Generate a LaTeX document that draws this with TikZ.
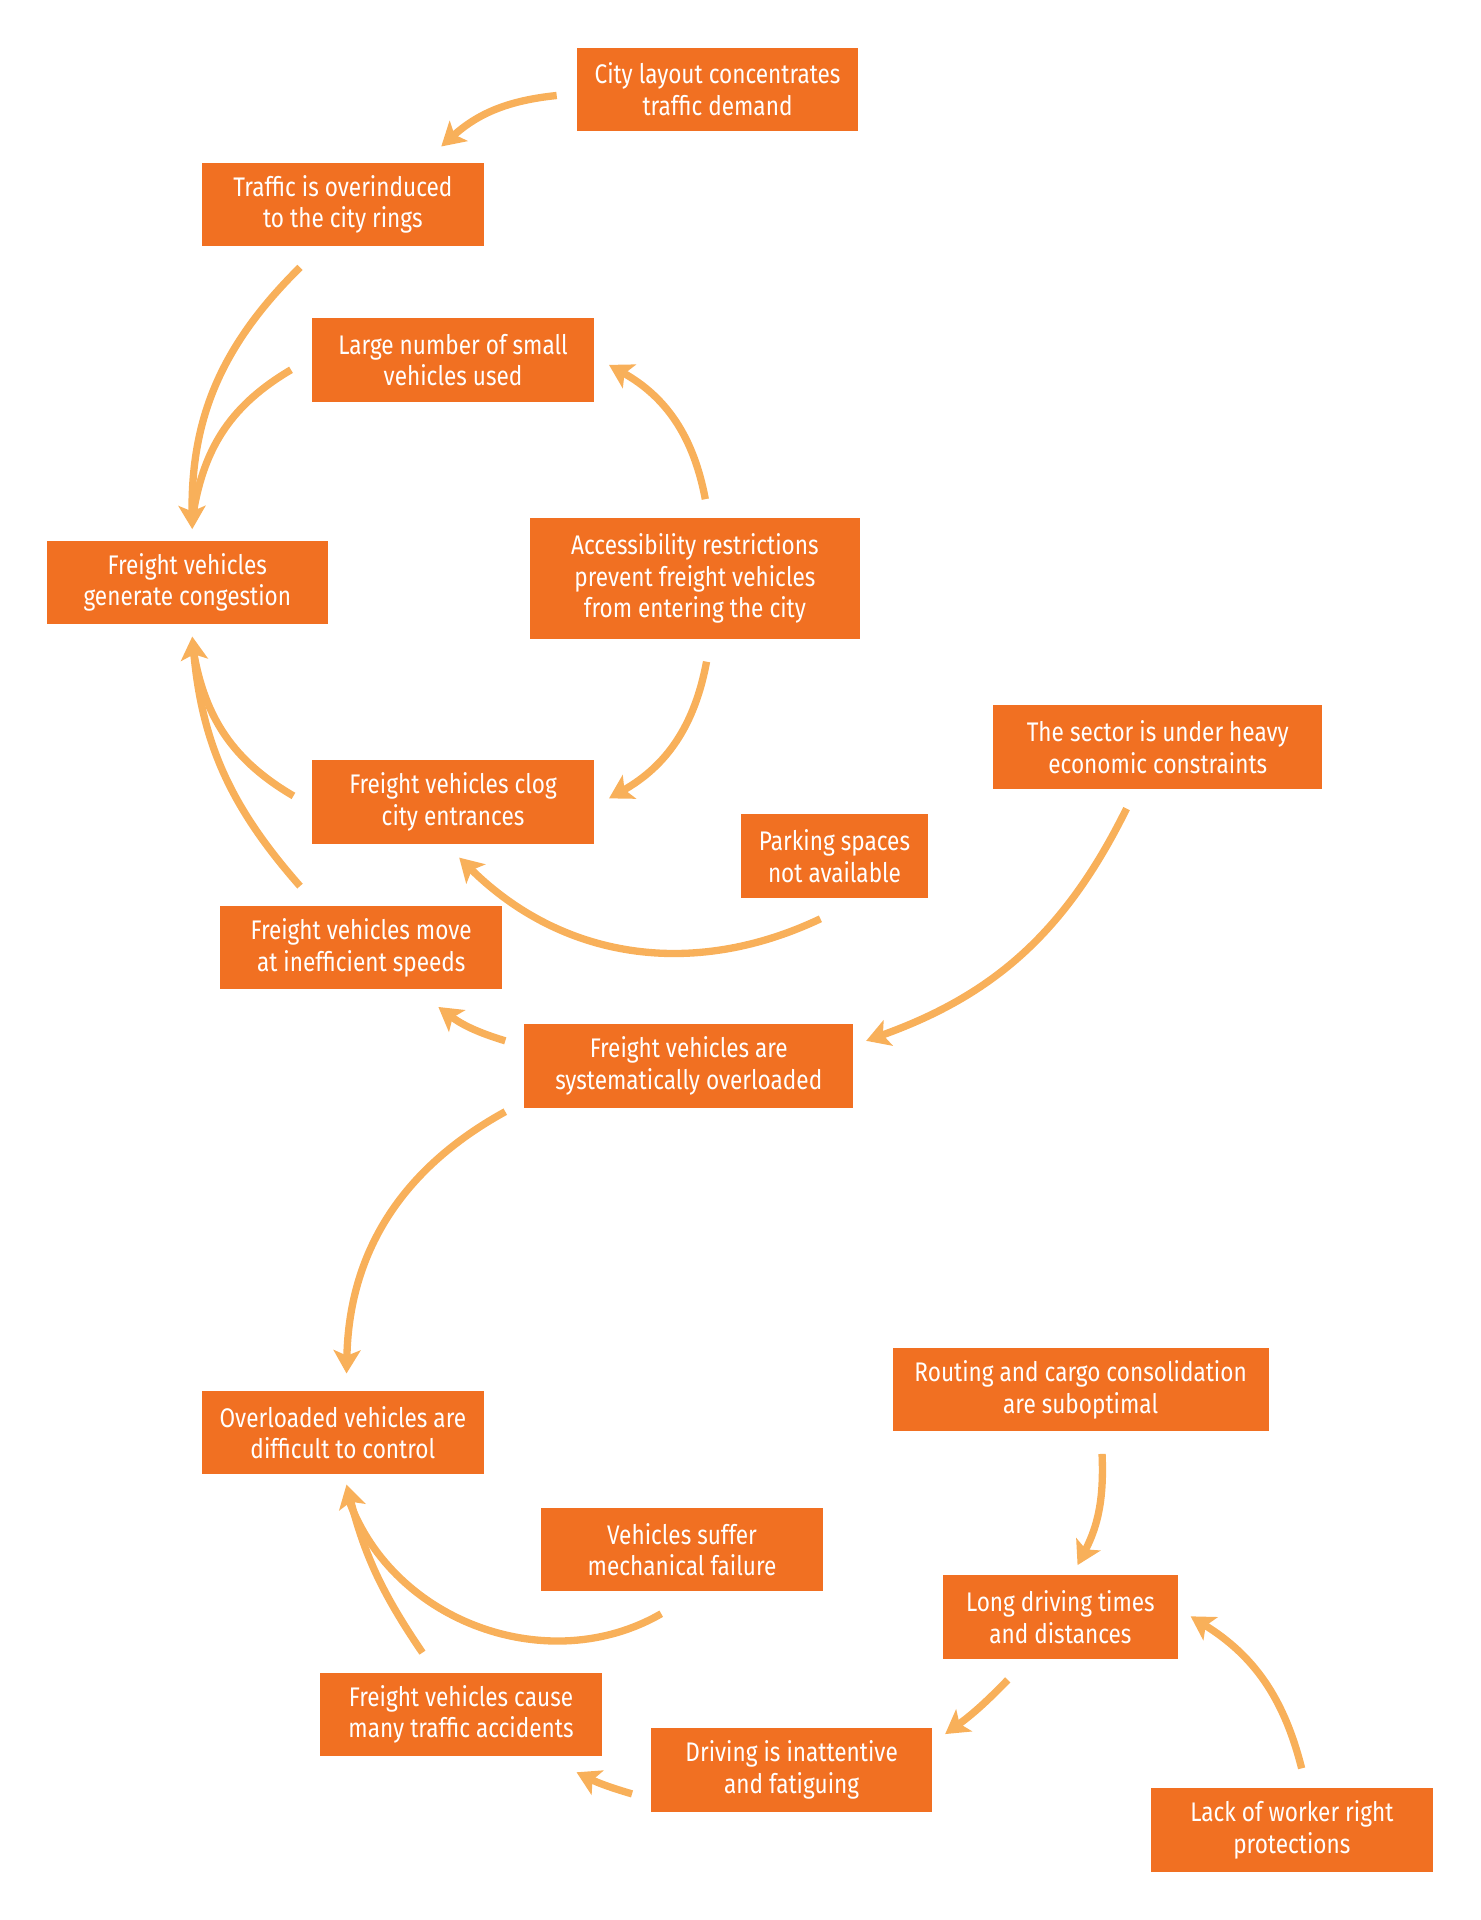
\documentclass[tikz,border=0pt]{standalone}
\usepackage{fontspec}
\setmainfont{Fira Sans}[FakeStretch=0.84]
\usepackage{xcolor}
\usepackage{tikz}
\usetikzlibrary{arrows.meta}

\definecolor{boxorange}{RGB}{241,112,34}
\definecolor{arroworange}{RGB}{248,176,90}

\begin{document}
\begin{tikzpicture}[x=0.2mm, y=0.2mm,
    box/.style={fill=boxorange, text=white, align=center, inner sep=0pt,
        minimum width=46mm, minimum height=13.6mm,
        font=\fontsize{12.5}{14.7}\selectfont},
    wide/.style={box, minimum width=53.8mm},
    link/.style={draw=arroworange, line width=3.4pt},
    arr/.style={link, -{Stealth[length=3.8mm, width=4.4mm, inset=0.9mm]}}]

    % Rahmen
    \useasboundingbox (0,0) rectangle (1209,-1568);

    % Obere Schleife
    \node[box] (city) at (586,-73) {City layout concentrates\\traffic demand};
    \node[box] (rings) at (280,-167) {Traffic is overinduced\\to the city rings};
    \node[box] (small) at (370,-294) {Large number of small\\vehicles used};
    \node[box] (cong) at (153,-475.5) {Freight vehicles\\generate congestion};
    \node[wide, minimum height=19.8mm] (access) at (567.5,-472.5)
        {Accessibility restrictions\\prevent freight vehicles\\from entering the city};
    \node[box] (clog) at (370,-655) {Freight vehicles clog\\city entrances};
    \node[wide] (econ) at (945.5,-610) {The sector is under heavy\\economic constraints};
    \node[box, minimum width=30.6mm] (park) at (681.5,-699) {Parking spaces\\not available};
    \node[box] (speed) at (295,-774) {Freight vehicles move\\at inefficient speeds};
    \node[wide] (overl) at (562.5,-870.5) {Freight vehicles are\\systematically overloaded};

    % Untere Schleife
    \node[box] (control) at (280,-1170) {Overloaded vehicles are\\difficult to control};
    \node[box, minimum width=61.4mm] (routing) at (882.5,-1135)
        {Routing and cargo consolidation\\are suboptimal};
    \node[box] (mech) at (557,-1265.5) {Vehicles suffer\\mechanical failure};
    \node[box, minimum width=38.4mm] (times) at (866,-1320.5) {Long driving times\\and distances};
    \node[box] (accid) at (376.5,-1400) {Freight vehicles cause\\many traffic accidents};
    \node[box] (fatig) at (646.5,-1445.5) {Driving is inattentive\\and fatiguing};
    \node[box] (worker) at (1055,-1494.5) {Lack of worker right\\protections};

    % Pfeile oben
    \draw[arr] ([shift={(-16,-5)}]city.west) to[bend right=18] ([shift={(-35,13)}]rings.north east);
    \draw[arr] ([shift={(-35,-17)}]rings.south) to[bend right=23] ([shift={(4,9)}]cong.north);
    \draw[link] ([shift={(-17,-8)}]small.west) to[bend right=25] ([shift={(5,23)}]cong.north);
    \draw[arr] ([shift={(8.5,15)}]access.north) to[bend right=25] ([shift={(12,-4)}]small.east);
    \draw[arr] ([shift={(9.5,-18)}]access.south) to[bend left=25] ([shift={(12,3)}]clog.east);
    \draw[link] ([shift={(-15,5)}]clog.west) to[bend left=25] ([shift={(5,-22)}]cong.south);
    \draw[arr] ([shift={(-50,16)}]speed.north) to[bend left=18] ([shift={(4,-10)}]cong.south);
    \draw[arr] ([shift={(-11.5,-17)}]park.south) to[bend left=35] ([shift={(5,-11)}]clog.south);
    \draw[arr] ([shift={(-25.5,-16)}]econ.south) to[bend left=22] ([shift={(10,20.5)}]overl.east);
    \draw[arr] ([shift={(-15,20.5)}]overl.west) to[bend left=10] ([shift={(63,-14)}]speed.south);
    \draw[arr] ([shift={(-15,-3)}]overl.south west) to[bend right=30] ([shift={(3,14)}]control.north);

    % Pfeile unten
    \draw[arr] ([shift={(17.5,-18)}]routing.south) to[bend left=15] ([shift={(14,8)}]times.north);
    \draw[arr] ([shift={(8,16)}]worker.north) to[bend right=22] ([shift={(10,0.5)}]times.east);
    \draw[arr] ([shift={(-43,-17)}]times.south) to[bend left=5] ([shift={(10,-5)}]fatig.north east);
    \draw[arr] ([shift={(-15,-19.5)}]fatig.west) to[bend left=5] ([shift={(-21,-13)}]accid.south east);
    \draw[link] ([shift={(-17,-18)}]mech.south) to[bend left=50] ([shift={(5,-21)}]control.south);
    \draw[arr] ([shift={(-31.5,16)}]accid.north) to[bend left=10] ([shift={(3,-8)}]control.south);
\end{tikzpicture}
\end{document}
